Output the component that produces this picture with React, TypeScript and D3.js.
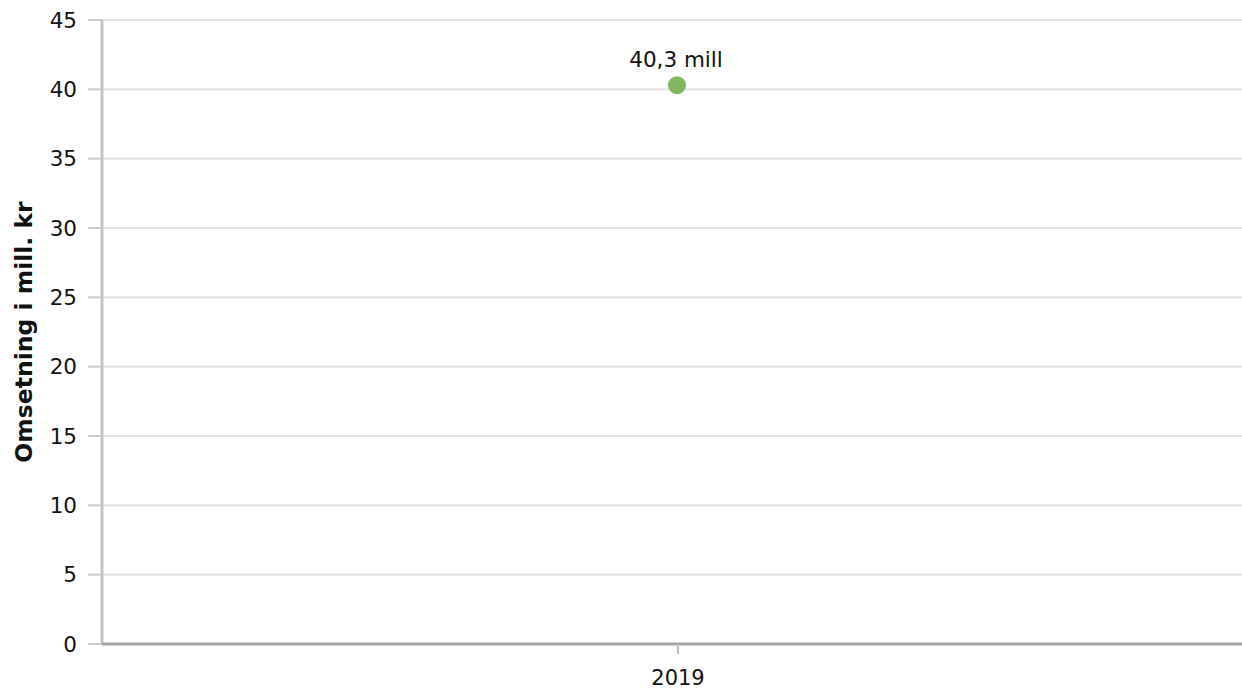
import React from "react";
import * as d3 from "d3";

const categories = ["2019"];
const values = [40.3];
const valueLabels = ["40,3 mill"];
const yTicks = [0, 5, 10, 15, 20, 25, 30, 35, 40, 45];
const yTitle = "Omsetning i mill. kr";

export default function App() {
  const W = 1242, H = 690;
  const left = 102, right = 1254, top = 20, bottom = 644;
  const x = d3.scaleBand<string>().domain(categories).range([left, right]);
  const y = d3.scaleLinear().domain([0, 45]).range([bottom, top]);
  const font = "'DejaVu Sans', Verdana, sans-serif";
  return (
    <svg width={W} height={H} style={{ position: "absolute", left: 0, top: 0 }} fontFamily={font}>
      {yTicks.map((t) => (
        <g key={t}>
          <line x1={left} x2={W} y1={y(t)} y2={y(t)} stroke="#e3e3e3" strokeWidth={2} />
          <line x1={88} x2={left} y1={y(t)} y2={y(t)} stroke="#c8c8c8" strokeWidth={2} />
          <text x={77} y={y(t)} textAnchor="end" dominantBaseline="central" fontSize={21.5} fill="#111">{t}</text>
        </g>
      ))}
      <line x1={left} x2={left} y1={top} y2={bottom} stroke="#c4c4c4" strokeWidth={3} />
      <line x1={left} x2={W} y1={bottom} y2={bottom} stroke="#a3a3a3" strokeWidth={3} />
      {categories.map((c, i) => {
        const cx = (x(c) as number) + x.bandwidth() / 2;
        return (
          <g key={c}>
            <line x1={cx} x2={cx} y1={bottom} y2={bottom + 10} stroke="#bdbdbd" strokeWidth={2} />
            <text x={cx} y={bottom + 41} textAnchor="middle" fontSize={21} fill="#111">{c}</text>
            <circle cx={cx - 1} cy={y(values[i])} r={9} fill="#80b65d" />
            <text x={cx - 2} y={y(values[i]) - 18} textAnchor="middle" fontSize={21.5} fill="#111">{valueLabels[i]}</text>
          </g>
        );
      })}
      <text transform={`translate(32, ${(top + bottom) / 2}) rotate(-90)`} textAnchor="middle" fontSize={23.5} fontWeight="bold" fill="#111">{yTitle}</text>
    </svg>
  );
}
